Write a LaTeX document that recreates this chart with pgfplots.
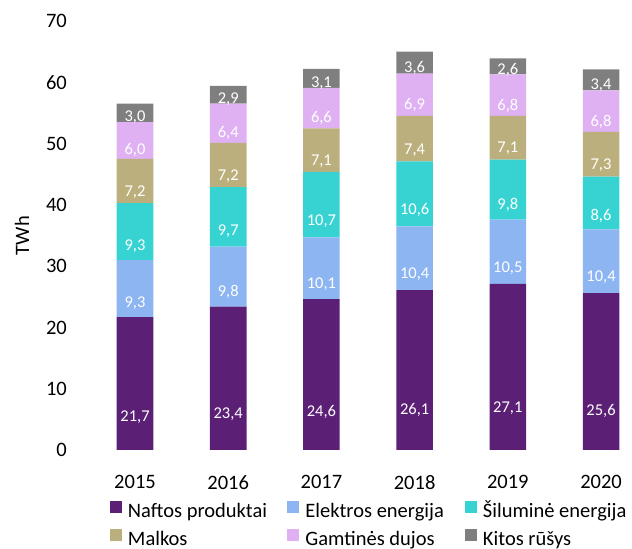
\documentclass[border=0pt]{standalone}
\usepackage{pgfplots}
\pgfplotsset{compat=1.18}
\usepackage{pgfplotstable}
\usepackage{fontspec}
\setmainfont{Carlito}
\definecolor{cNaft}{HTML}{5B1F76}
\definecolor{cElek}{HTML}{8CB5F2}
\definecolor{cSil}{HTML}{37D3D3}
\definecolor{cMalk}{HTML}{BBB07D}
\definecolor{cGamt}{HTML}{DFB1F2}
\definecolor{cKit}{HTML}{7F7F7F}
\pgfplotstableread{
x naft elek sil malk gamt kit
0 21.7 9.3 9.3 7.2 6.0 3.0
1 23.4 9.8 9.7 7.2 6.4 2.9
2 24.6 10.1 10.7 7.1 6.6 3.1
3 26.1 10.4 10.6 7.4 6.9 3.6
4 27.1 10.5 9.8 7.1 6.8 2.6
5 25.6 10.4 8.6 7.3 6.8 3.4
}\datatable
\pgfplotsset{
  mid offset/.code={%
    \pgfkeys{/pgf/fpu=true,/pgf/fpu/output format=fixed}%
    \pgfmathsetmacro\midoff{\pgfplotspointmeta*1.53215}%
    \pgfkeys{/pgf/fpu=false}%
  },
}
\newcommand{\bigf}{\fontsize{20.5bp}{24bp}\selectfont}
\newcommand{\smallf}{\fontsize{16.5bp}{19bp}\selectfont}
\begin{document}
\begin{tikzpicture}
\useasboundingbox (0,0) rectangle (632bp,549bp);
\begin{axis}[
  at={(88.4bp,99bp)}, anchor=south west,
  scale only axis, width=543.4bp, height=429bp,
  ybar stacked, bar width=36.6bp,
  xmin=-0.5, xmax=5.33, ymin=0, ymax=70,
  ytick={0,10,...,70},
  xtick={0,...,5}, xticklabels={2015,2016,2017,2018,2019,2020},
  axis line style={draw=none}, tick style={draw=none},
  /pgf/number format/assume math mode=true,
  tick label style={font=\bigf},
  yticklabel style={xshift=-18bp},
  xticklabel style={yshift=-22bp},
  ylabel={TWh},
  every axis y label/.style={at={(axis description cs:-0.122,0.5)}, rotate=90, anchor=center, font=\bigf},
  point meta=explicit,
  nodes near coords={\pgfmathprintnumber[fixed,fixed zerofill,precision=1,use comma,assume math mode=true]{\pgfplotspointmeta}},
  nodes near coords align={center},
  every node near coord/.append style={/pgfplots/mid offset, anchor=center, yshift=-\midoff bp, text=white, font=\smallf, inner sep=0pt},
  legend columns=3,
  legend cell align=left,
  legend style={at={(axis description cs:0.0397,-0.1189)}, anchor=north west, draw=none, fill=none, inner sep=0pt, outer sep=0pt, row sep=7bp, column sep=0pt, font=\bigf, nodes={inner sep=0pt, text height=15bp, text depth=5bp}, /tikz/every odd column/.append style={column sep=6bp}},
  legend image code/.code={\fill[#1] (0bp,-1bp) rectangle (12bp,11bp);},
]
\addplot[fill=cNaft, draw=none] table[x=x, y=naft, meta=naft] {\datatable};
\addlegendentry{\makebox[159.5bp][l]{Naftos produktai}}
\addplot[fill=cElek, draw=none] table[x=x, y=elek, meta=elek] {\datatable};
\addlegendentry{\makebox[159.5bp][l]{Elektros energija}}
\addplot[fill=cSil, draw=none] table[x=x, y=sil, meta=sil] {\datatable};
\addlegendentry{Šiluminė energija}
\addplot[fill=cMalk, draw=none] table[x=x, y=malk, meta=malk] {\datatable};
\addlegendentry{\makebox[159.5bp][l]{Malkos}}
\addplot[fill=cGamt, draw=none] table[x=x, y=gamt, meta=gamt] {\datatable};
\addlegendentry{\makebox[159.5bp][l]{Gamtinės dujos}}
\addplot[fill=cKit, draw=none] table[x=x, y=kit, meta=kit] {\datatable};
\addlegendentry{Kitos rūšys}
\end{axis}
\end{tikzpicture}
\end{document}
